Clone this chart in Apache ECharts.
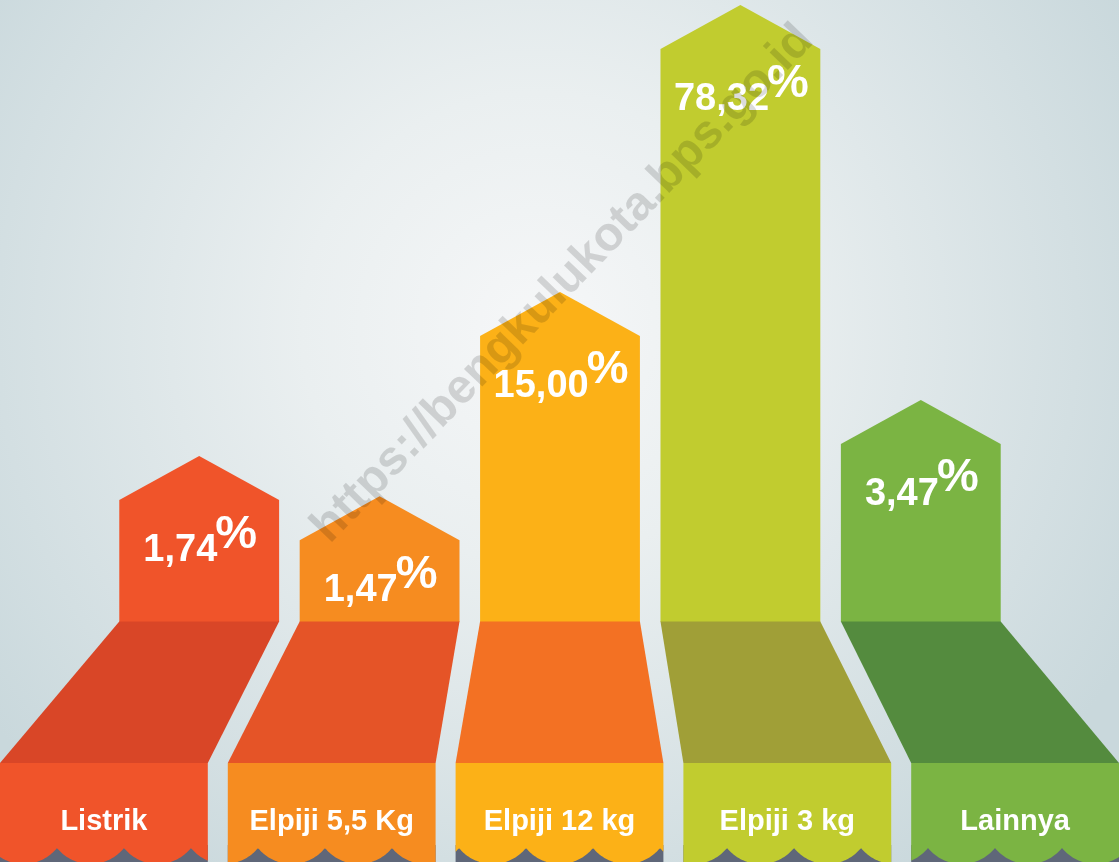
<!DOCTYPE html>
<html>
<head>
<meta charset="utf-8">
<title>Bahan Bakar Memasak</title>
<script src="https://cdn.jsdelivr.net/npm/echarts@6/dist/echarts.min.js"></script>
<style>
  html, body { margin: 0; padding: 0; }
  #chart { width: 1119px; height: 862px; }
</style>
</head>
<body>
<div id="chart"></div>
<script>
// jenis bahan bakar dan persentasenya
const categories = ['Listrik', 'Elpiji 5,5 Kg', 'Elpiji 12 kg', 'Elpiji 3 kg', 'Lainnya']
const percents = [1.74, 1.47, 15.00, 78.32, 3.47]
// tinggi ujung panah di gambar (skala 0-100, tidak proporsional dgn persen)
const arrowHeights = [26.9, 20.4, 53.5, 100, 36.0]

const topColors = ['#f0542a', '#f68c20', '#fcb117', '#c1cc2f', '#7bb443']
const baseColors = ['#d94627', '#e55427', '#f37123', '#a09f37', '#548b3e']

const fontFamily = '"Liberation Sans", Arial, sans-serif'
const ctx = document.createElement('canvas').getContext('2d')
function textWidth(str, font) {
  ctx.font = font
  return ctx.measureText(str).width
}

// tepi bawah bergelombang
function scallopY(x, yCusp) {
  const period = 67, r = 43, s = 16
  const phase = (((x - 57) % period) + period) % period
  const d = phase - period / 2
  return yCusp + Math.sqrt(Math.max(r * r - d * d, 0)) - (r - s)
}

function renderItem(params, api) {
  const i = params.dataIndex
  const peak = api.coord([i, api.value(1)])
  const base = api.coord([i, 0])
  const half = api.size([1, 0])[0] * 0.443
  const cx = peak[0]
  const shoulder = peak[1] + 44
  const W = api.getWidth()
  const H = api.getHeight()
  const gap = 20
  const slot = (W + gap) / categories.length
  const bl = i * slot
  const br = bl + slot - gap
  const yTrap = base[1] + 141
  const yCusp = base[1] + 226

  const boxPts = [[bl, yTrap], [br, yTrap]]
  for (let x = br; x >= bl; x -= 1) boxPts.push([x, scallopY(x, yCusp)])
  boxPts.push([bl, scallopY(bl, yCusp)])

  const num = percents[i].toFixed(2).replace('.', ',')
  const numFont = 'bold 38px ' + fontFamily
  const pctFont = 'bold 47px ' + fontFamily
  const wN = textWidth(num, numFont)
  const wP = textWidth('%', pctFont)
  const x0 = cx - (wN + wP) / 2 + 2
  const baseline = shoulder + 64

  return {
    type: 'group',
    children: [
      {
        type: 'polygon',
        shape: { points: [[cx - half, base[1]], [cx - half, shoulder], [cx, peak[1]], [cx + half, shoulder], [cx + half, base[1]]] },
        style: { fill: topColors[i] }
      },
      {
        type: 'polygon',
        shape: { points: [[cx - half, base[1] - 0.5], [cx + half, base[1] - 0.5], [br, yTrap], [bl, yTrap]] },
        style: { fill: baseColors[i] }
      },
      {
        type: 'rect',
        shape: { x: bl, y: yCusp - 3, width: br - bl, height: H - yCusp + 3 },
        style: { fill: '#5f6779' }
      },
      {
        type: 'polygon',
        shape: { points: boxPts },
        style: { fill: topColors[i] }
      },
      {
        type: 'text',
        style: { text: num, x: x0, y: baseline - 13.3, font: numFont, fill: '#fff', align: 'left', verticalAlign: 'middle' }
      },
      {
        type: 'text',
        style: { text: '%', x: x0 + wN - 2, y: baseline - 13 - 16.4, font: pctFont, fill: '#fff', align: 'left', verticalAlign: 'middle' }
      },
      {
        type: 'text',
        style: { text: categories[i], x: (bl + br) / 2, y: 822, font: 'bold 29px ' + fontFamily, fill: '#fff', align: 'center', verticalAlign: 'middle' }
      }
    ]
  }
}

const chart = echarts.init(document.getElementById('chart'))
chart.setOption({
  animation: false,
  backgroundColor: {
    type: 'radial', x: 0.48, y: 0.38, r: 0.78,
    colorStops: [
      { offset: 0, color: '#f6f7f8' },
      { offset: 0.35, color: '#eaeff0' },
      { offset: 1, color: '#c9d8dc' }
    ]
  },
  grid: { left: 109, right: 108, top: 5, bottom: 240 },
  xAxis: { type: 'category', data: categories, show: false },
  yAxis: { type: 'value', min: 0, max: 100, show: false },
  series: [{
    type: 'custom',
    renderItem: renderItem,
    data: arrowHeights.map((h, i) => [i, h]),
    encode: { x: 0, y: 1 }
  }],
  graphic: [{
    type: 'text',
    z: 100,
    x: 563,
    y: 284,
    rotation: 46 * Math.PI / 180,
    style: {
      text: 'https://bengkulukota.bps.go.id',
      font: 'bold 48px ' + fontFamily,
      fill: 'rgba(0,0,0,0.14)',
      align: 'center',
      verticalAlign: 'middle'
    }
  }]
})
</script>
</body>
</html>
